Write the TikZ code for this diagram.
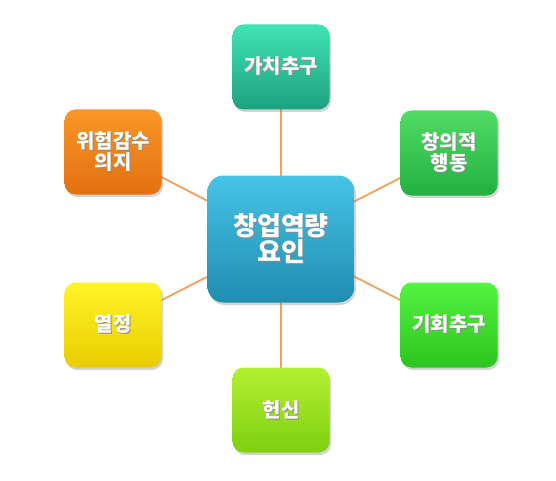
\documentclass[tikz,border=0pt]{standalone}
\usepackage{fontspec}
\setmainfont{Noto Sans CJK KR}
\usetikzlibrary{shadows}
\definecolor{linkc}{HTML}{F5A05A}
\newcommand\shtx[1]{\leavevmode\rlap{\kern1pt\raisebox{-1pt}{\color{black!45}#1}}#1}
\tikzset{
  box/.style={rounded corners=11pt, minimum width=97pt, minimum height=85pt,
    align=center, text=white, font=\fontsize{20}{21}\selectfont\bfseries,
    drop shadow={shadow xshift=1.5pt, shadow yshift=-2.5pt, opacity=0.35}},
  hub/.style={box, rounded corners=16pt, minimum width=147pt, minimum height=127pt,
    font=\fontsize{26}{26}\selectfont\bfseries},
  link/.style={draw=linkc, line width=1.8pt},
}
\begin{document}
\begin{tikzpicture}[x=1pt,y=-1pt]
\useasboundingbox (0,0) rectangle (556,481);
\coordinate (hc) at (281,239);
\coordinate (tc) at (281,67);
\coordinate (ulc) at (113,152);
\coordinate (urc) at (449,153);
\coordinate (llc) at (113,325);
\coordinate (lrc) at (449,325);
\coordinate (bc) at (281,410);
\draw[link] (hc) -- (tc);
\draw[link] (hc) -- (ulc);
\draw[link] (hc) -- (urc);
\draw[link] (hc) -- (llc);
\draw[link] (hc) -- (lrc);
\draw[link] (hc) -- (bc);
\node[hub, top color={rgb,255:red,70;green,196;blue,230}, bottom color={rgb,255:red,32;green,140;blue,176}] (hub) at (hc) {\shtx{창업역량}\\\shtx{요인}};
\node[box, top color={rgb,255:red,64;green,228;blue,180}, bottom color={rgb,255:red,30;green,160;blue,128}] (t) at (tc) {\shtx{가치추구}};
\node[box, top color={rgb,255:red,250;green,150;blue,40}, bottom color={rgb,255:red,226;green,112;blue,16}] (ul) at (ulc) {\shtx{위험감수}\\\shtx{의지}};
\node[box, top color={rgb,255:red,80;green,220;blue,100}, bottom color={rgb,255:red,34;green,176;blue,64}] (ur) at (urc) {\shtx{창의적}\\\shtx{행동}};
\node[box, top color={rgb,255:red,255;green,244;blue,40}, bottom color={rgb,255:red,232;green,204;blue,0}] (ll) at (llc) {\shtx{열정}};
\node[box, top color={rgb,255:red,84;green,244;blue,64}, bottom color={rgb,255:red,44;green,196;blue,32}] (lr) at (lrc) {\shtx{기회추구}};
\node[box, top color={rgb,255:red,180;green,240;blue,50}, bottom color={rgb,255:red,126;green,208;blue,16}] (b) at (bc) {\shtx{헌신}};
\end{tikzpicture}
\end{document}
